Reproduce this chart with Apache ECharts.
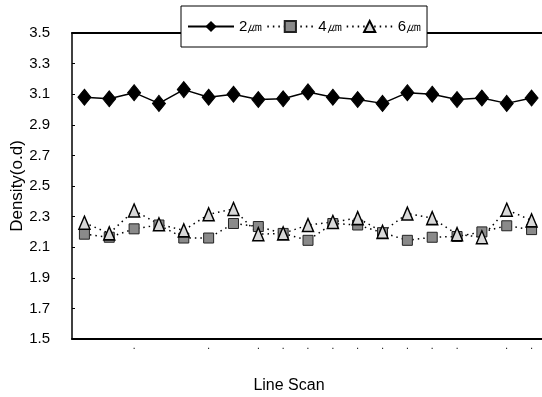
<!DOCTYPE html>
<html>
<head>
<meta charset="utf-8">
<script src="https://cdn.jsdelivr.net/npm/echarts@6/dist/echarts.min.js"></script>
<style>html,body{margin:0;padding:0;background:#fff;}#c{width:542px;height:397px;}</style>
</head>
<body>
<div id="c"></div>
<script>
const categories = ['1','2','3','4','5','6','7','8','9','10','11','12','13','14','15','16','17','18','19'];
const dotLabels = [2,5,7,8,9,10,11,12,13,14,15,17,18];
const yTicks = ['1.5','1.7','1.9','2.1','2.3','2.5','2.7','2.9','3.1','3.3','3.5'];
const s2um = [3.08,3.07,3.11,3.04,3.13,3.08,3.10,3.065,3.07,3.115,3.08,3.065,3.04,3.11,3.10,3.065,3.075,3.04,3.075];
const s4um = [2.185,2.165,2.22,2.245,2.16,2.16,2.255,2.235,2.19,2.145,2.255,2.245,2.195,2.145,2.165,2.17,2.20,2.24,2.215];
const s6um = [2.26,2.19,2.34,2.25,2.21,2.315,2.35,2.185,2.19,2.245,2.265,2.29,2.20,2.32,2.29,2.185,2.165,2.345,2.275];
const names = ['2\u339b','4\u339b','6\u339b'];

const chart = echarts.init(document.getElementById('c'), null, {renderer:'canvas'});
const font = 'Liberation Sans, Arial, sans-serif';
chart.setOption({
  animation:false,
  backgroundColor:'#fff',
  textStyle:{fontFamily:font,color:'#000'},
  grid:{left:72,top:33,bottom:58,right:-2,containLabel:false,outerBoundsMode:'none'},
  legend:{
    data:names, left:181, top:6, padding:[13,6,13,6], itemGap:4, itemWidth:46, itemHeight:14,
    backgroundColor:'#fff', borderColor:'#000', borderWidth:1,
    textStyle:{fontFamily:font,fontSize:15,color:'#000'}
  },
  xAxis:[{
    type:'category', data:categories, boundaryGap:true,
    axisLine:{lineStyle:{color:'#000',width:2}},
    axisTick:{show:false},
    axisLabel:{interval:0,margin:2,fontSize:10,color:'#000',
      formatter:(v,i)=>dotLabels.indexOf(i)>=0?'.':''},
    splitLine:{show:false},
    name:'Line Scan', nameLocation:'middle', nameGap:39, nameMoveOverlap:false,
    nameTextStyle:{fontFamily:font,fontSize:16,color:'#000',padding:[0,38,0,0]}
  },{
    type:'category', data:categories, position:'top',
    axisLine:{lineStyle:{color:'#000',width:2}},
    axisTick:{show:false}, axisLabel:{show:false}
  }],
  yAxis:{
    type:'value', min:1.5, max:3.5, interval:0.2,
    axisLine:{show:true,lineStyle:{color:'#000',width:1.5}},
    axisTick:{show:true,inside:true,length:3,lineStyle:{color:'#000'}},
    splitLine:{show:false},
    axisLabel:{fontSize:15,color:'#000',margin:22,formatter:v=>v.toFixed(1)},
    name:'Density(o.d)', nameLocation:'middle', nameGap:46, nameMoveOverlap:false,
    nameTextStyle:{fontFamily:font,fontSize:17,color:'#000'}
  },
  series:[
    {name:names[0],type:'line',data:s2um,symbol:'diamond',symbolSize:[13,16],
     lineStyle:{color:'#000',width:1.5,type:'solid'},itemStyle:{color:'#000',borderColor:'#000'}},
    {name:names[1],type:'line',data:s4um,symbol:'rect',symbolSize:10,
     lineStyle:{color:'#000',width:1.5,type:[1.5,4]},itemStyle:{color:'#8a8a8a',borderColor:'#222',borderWidth:1}},
    {name:names[2],type:'line',data:s6um,symbol:'triangle',symbolSize:[11,13],
     lineStyle:{color:'#000',width:1.5,type:[1.5,4]},itemStyle:{color:'#d8d8d8',borderColor:'#000',borderWidth:1.5}}
  ]
});
</script>
</body>
</html>
